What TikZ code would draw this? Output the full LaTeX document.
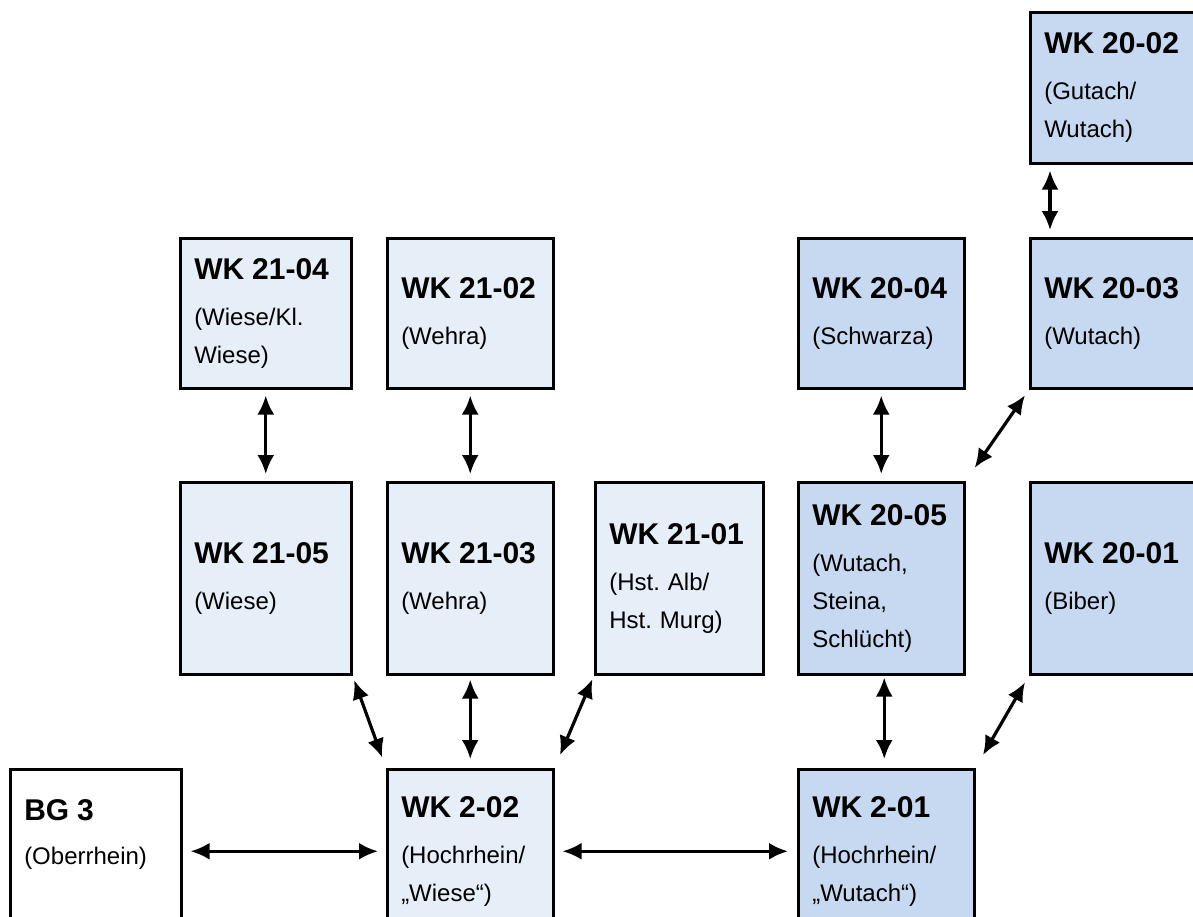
\documentclass[tikz,border=0pt]{standalone}
\usepackage{fontspec}
\setmainfont{Liberation Sans}
\usetikzlibrary{arrows.meta}
\definecolor{wklite}{HTML}{E6EEF8}
\definecolor{wkdark}{HTML}{C6D9F0}
\newcommand\wkt[1]{{\fontsize{30}{35}\selectfont\bfseries #1}}
\frenchspacing

\begin{document}
\begin{tikzpicture}[x=1pt, y=-1pt,
    box/.style n args={3}{draw, line width=2.5pt, anchor=north west, inner xsep=14pt, inner ysep=0pt,
        align=left, minimum width=#1, minimum height=#2, text width=#3, font=\fontsize{24}{38}\selectfont},
    lite/.style={fill=wklite},
    dark/.style={fill=wkdark},
    link/.style={{Latex[length=19pt,width=17pt]}-{Latex[length=19pt,width=17pt]}, line width=3.2pt,
        shorten <=6pt, shorten >=7pt}]
    \useasboundingbox (0,0) rectangle (1193,916);
    \clip (0,0) rectangle (1193,916);

    % Bottom row
    \node[box={171pt}{164pt}{143pt}, fill=white] (bg3) at (9,768) {\wkt{BG 3}\\[6pt](Oberrhein)\\[-10pt] \strut};
    \node[box={166pt}{164pt}{138pt}, lite] (wk202) at (386,768) {\wkt{WK 2-02}\\[8pt](Hochrhein/\\„Wiese“)};
    \node[box={176pt}{164pt}{148pt}, dark] (wk201) at (797,768) {\wkt{WK 2-01}\\[8pt](Hochrhein/\\„Wutach“)};

    % Middle row
    \node[box={171pt}{192pt}{143pt}, lite] (wk2105) at (179,481) {\wkt{WK 21-05}\\[8pt](Wiese)};
    \node[box={166pt}{192pt}{138pt}, lite] (wk2103) at (386,481) {\wkt{WK 21-03}\\[8pt](Wehra)};
    \node[box={168pt}{192pt}{140pt}, lite] (wk2101) at (594,481) {\wkt{WK 21-01}\\[8pt](Hst. Alb/\\Hst. Murg)};
    \node[box={166pt}{192pt}{138pt}, dark] (wk2005) at (797,481) {\wkt{WK 20-05}\\[8pt](Wutach,\\Steina,\\Schlücht)};
    \node[box={175pt}{192pt}{147pt}, dark] (wk2001) at (1029,481) {\wkt{WK 20-01}\\[8pt](Biber)};

    % Top rows
    \node[box={171pt}{150pt}{143pt}, lite] (wk2104) at (179,237) {\wkt{WK 21-04}\\[8pt](Wiese/Kl.\\Wiese)};
    \node[box={166pt}{150pt}{138pt}, lite] (wk2102) at (386,237) {\wkt{WK 21-02}\\[8pt](Wehra)};
    \node[box={166pt}{150pt}{138pt}, dark] (wk2004) at (797,237) {\wkt{WK 20-04}\\[8pt](Schwarza)};
    \node[box={175pt}{150pt}{147pt}, dark] (wk2003) at (1029,237) {\wkt{WK 20-03}\\[8pt](Wutach)};
    \node[box={175pt}{151pt}{147pt}, dark] (wk2002) at (1029,11) {\wkt{WK 20-02}\\[8pt](Gutach/\\Wutach)};

    % Links
    \draw[link, shorten <=8pt, shorten >=8pt] (bg3.east) -- (wk202.west);
    \draw[link, shorten <=8pt, shorten >=9pt] (wk202.east) -- (wk201.west);
    \draw[link] (wk2104.south) -- (wk2105.north);
    \draw[link] (wk2102.south) -- (wk2103.north);
    \draw[link] (wk2004.south) -- (wk2005.north);
    \draw[link] ([xshift=21pt]wk2002.south west) -- ([xshift=21pt]wk2003.north west);
    \draw[link, shorten <=16pt] (wk2005.north east) -- (wk2003.south west);
    \draw[link, shorten <=5pt, shorten >=11pt] (wk2105.south east) -- (wk202.north west);
    \draw[link, shorten <=4pt, shorten >=9pt] (wk2103.south) -- (wk202.north);
    \draw[link, shorten <=4pt, shorten >=14pt] (wk2101.south west) -- (wk202.north east);
    \draw[link, shorten <=2pt, shorten >=9pt] ([xshift=3pt]wk2005.south) -- ([xshift=3pt]wk2005.south |- wk201.north);
    \draw[link, shorten <=8pt, shorten >=15pt] (wk2001.south west) -- (wk201.north east);
\end{tikzpicture}
\end{document}
